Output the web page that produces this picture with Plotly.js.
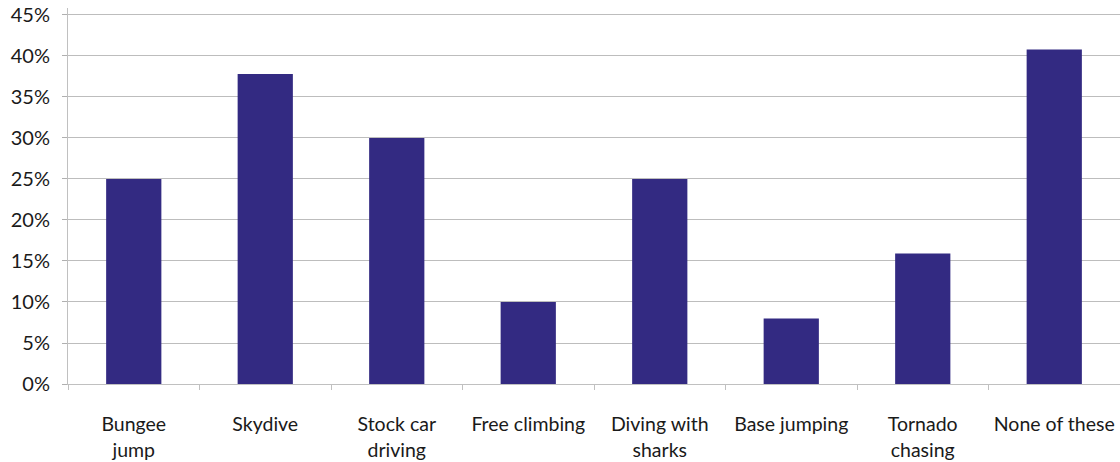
<!DOCTYPE html>
<html>
<head>
<meta charset="utf-8">
<script src="https://cdn.plot.ly/plotly-3.0.1.min.js"></script>
<style>html,body{margin:0;padding:0;background:#fff;}#chart{width:1120px;height:462px;}</style>
</head>
<body>
<div id="chart"></div>
<script>
const categories = ["Bungee<br>jump", "Skydive", "Stock car<br>driving", "Free climbing", "Diving with<br>sharks", "Base jumping", "Tornado<br>chasing", "None of these"];
const values = [25, 37.8, 30, 10, 25, 8, 15.9, 40.8];
const yTickVals = [0, 5, 10, 15, 20, 25, 30, 35, 40, 45];
const yTickText = ["0%", "5%", "10%", "15%", "20%", "25%", "30%", "35%", "40%", "45%"];

const trace = {
  type: "bar",
  x: categories,
  y: values,
  marker: {color: "#332a82"},
  width: 0.42,
  hoverinfo: "x+y"
};

const layout = {
  width: 1120,
  height: 462,
  margin: {l: 68, r: 0, t: 8, b: 78},
  paper_bgcolor: "#ffffff",
  plot_bgcolor: "#ffffff",
  showlegend: false,
  font: {family: "Lato, 'Open Sans', sans-serif", size: 19.5, color: "#1a1a1a"},
  xaxis: {
    type: "category",
    tickson: "boundaries",
    ticks: "outside",
    ticklen: 5,
    tickcolor: "#c0c0c0",
    showline: true,
    linecolor: "#c0c0c0",
    linewidth: 1,
    showgrid: false,
    ticklabelstandoff: 23,
    tickfont: {size: 19.5, color: "#1a1a1a"},
    range: [-0.5, 7.5],
    fixedrange: true
  },
  yaxis: {
    range: [0, 45.85],
    tickvals: yTickVals,
    ticktext: yTickText,
    ticks: "outside",
    ticklen: 5,
    tickcolor: "#b0b0b0",
    showline: true,
    linecolor: "#c0c0c0",
    linewidth: 1,
    showgrid: true,
    gridcolor: "#bdbdbd",
    gridwidth: 1,
    zeroline: false,
    ticklabelstandoff: 8,
    tickfont: {size: 20, color: "#1a1a1a"},
    fixedrange: true
  },
  bargap: 0.58
};

Plotly.newPlot("chart", [trace], layout, {displayModeBar: false, staticPlot: true});
</script>
</body>
</html>
